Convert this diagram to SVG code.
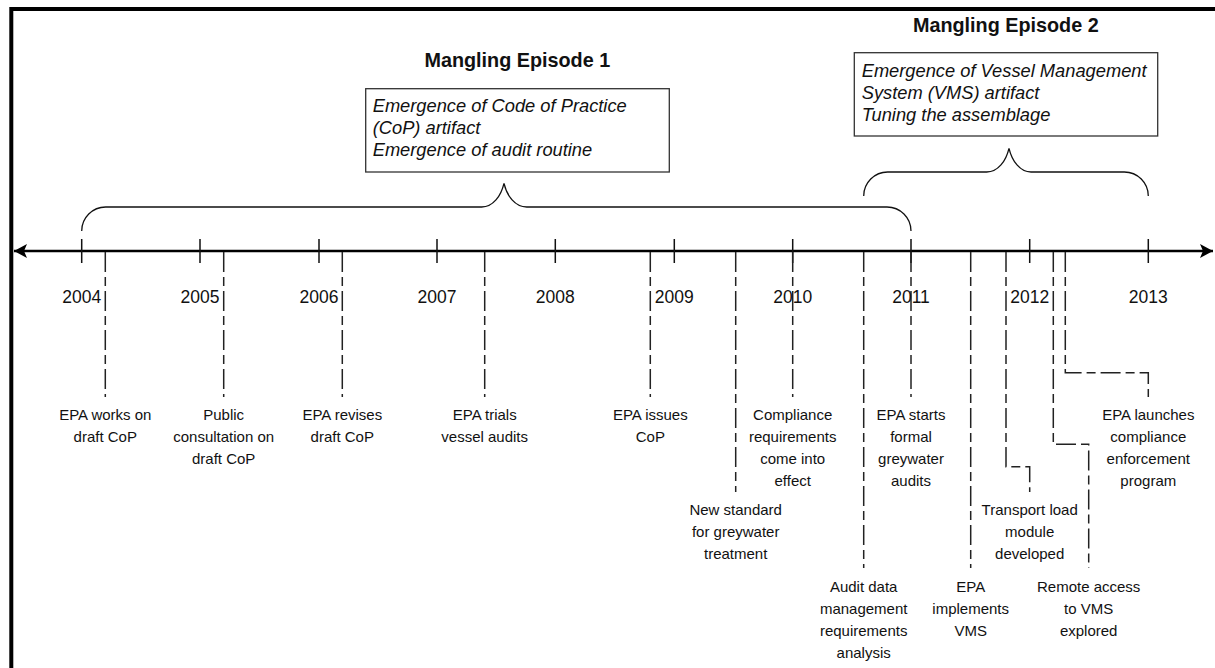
<svg xmlns="http://www.w3.org/2000/svg" width="1215" height="668" viewBox="0 0 1215 668">
<style>
text{font-family:"Liberation Sans",Arial,sans-serif;fill:#111}
.title{font-size:19.8px;font-weight:bold;text-anchor:middle}
.box{fill:#fff;stroke:#333;stroke-width:1.3}
.boxtxt{font-size:18.3px;font-style:italic}
.year{font-size:17.5px;text-anchor:middle}
.ev{font-size:15px;text-anchor:middle}
.tick{stroke:#111;stroke-width:1.5;fill:none}
.brace{stroke:#111;stroke-width:1.3;fill:none}
.dash{stroke:#222;stroke-width:1.5;fill:none;stroke-dasharray:20 5 9 5}
.axis{stroke:#000;stroke-width:2.6;fill:none}
</style>
<defs>
<marker id="ah" markerWidth="14" markerHeight="14" viewBox="0 0 14 14" refX="13" refY="7" orient="auto-start-reverse" markerUnits="userSpaceOnUse">
<path d="M0 0 L13 7 L0 14 L3 7 Z" fill="#000"/>
</marker>
</defs>
<rect width="1215" height="668" fill="#fff"/>
<g id="frame">
<path d="M11.3 668 V9 H1215" fill="none" stroke="#000" stroke-width="4"/>
</g>
<g id="connectors">
<path class="axis" d="M14 251 H1213" marker-start="url(#ah)" marker-end="url(#ah)"/>
<g id="ticks">
<path class="tick" d="M81.7 239V263M200 239V263M319 239V263M437 239V263M555.3 239V263M674.3 239V263M792.7 239V263M911 239V263M1029.7 239V263M1148.3 239V263"/>
</g>
<g id="braces">
<path class="brace" d="M81.7 231 A24 24 0 0 1 105.7 207 H481.7 C493 207 501 196 504 183.3 C507 196 515 207 526.7 207 H887 A24 24 0 0 1 911 231"/>
<path class="brace" d="M863.7 196 A24 24 0 0 1 887.7 172 H986.7 C998 172 1006 161 1009 148.3 C1012 161 1020 172 1031 172 H1124.3 A24 24 0 0 1 1148.3 196"/>
</g>
<g id="event-lines">
<path class="dash" d="M105.3 252V397"/>
<path class="dash" d="M223.7 252V397"/>
<path class="dash" d="M342.3 252V397"/>
<path class="dash" d="M484.7 252V397"/>
<path class="dash" d="M650.3 252V397"/>
<path class="dash" d="M735.7 252V492"/>
<path class="dash" d="M792.7 252V397"/>
<path class="dash" d="M863.7 252V568"/>
<path class="dash" d="M911 252V397"/>
<path class="dash" d="M970.7 252V568"/>
<path class="dash" d="M1006 252V466.7H1029.7V492"/>
<path class="dash" d="M1053.3 252V444.3H1088.7V568"/>
<path class="dash" d="M1065.3 252V372.7H1148.3V397"/>
</g>
</g>
<g id="years">
<text class="year" x="81.7" y="303">2004</text>
<text class="year" x="200" y="303">2005</text>
<text class="year" x="319" y="303">2006</text>
<text class="year" x="437" y="303">2007</text>
<text class="year" x="555.3" y="303">2008</text>
<text class="year" x="674.3" y="303">2009</text>
<text class="year" x="792.7" y="303">2010</text>
<text class="year" x="911" y="303">2011</text>
<text class="year" x="1029.7" y="303">2012</text>
<text class="year" x="1148.3" y="303">2013</text>
</g>
<g id="episode1">
<text class="title" x="517.3" y="66.7">Mangling Episode 1</text>
<rect class="box" x="365.7" y="88.7" width="303.6" height="83.3"/>
<text class="boxtxt" x="372.7" y="111.7">Emergence of Code of Practice</text>
<text class="boxtxt" x="372.7" y="133.7">(CoP) artifact</text>
<text class="boxtxt" x="372.7" y="155.7">Emergence of audit routine</text>
</g>
<g id="episode2">
<text class="title" x="1005.8" y="32.3">Mangling Episode 2</text>
<rect class="box" x="854.3" y="52.7" width="303.4" height="83.3"/>
<text class="boxtxt" x="861.7" y="76.7">Emergence of Vessel Management</text>
<text class="boxtxt" x="861.7" y="98.7">System (VMS) artifact</text>
<text class="boxtxt" x="861.7" y="120.7">Tuning the assemblage</text>
</g>
<g id="ev1"><text class="ev" x="105.3" y="420">EPA works on</text><text class="ev" x="105.3" y="442">draft CoP</text></g>
<g id="ev2"><text class="ev" x="223.7" y="420">Public</text><text class="ev" x="223.7" y="442">consultation on</text><text class="ev" x="223.7" y="464">draft CoP</text></g>
<g id="ev3"><text class="ev" x="342.3" y="420">EPA revises</text><text class="ev" x="342.3" y="442">draft CoP</text></g>
<g id="ev4"><text class="ev" x="484.7" y="420">EPA trials</text><text class="ev" x="484.7" y="442">vessel audits</text></g>
<g id="ev5"><text class="ev" x="650.3" y="420">EPA issues</text><text class="ev" x="650.3" y="442">CoP</text></g>
<g id="ev6"><text class="ev" x="735.7" y="515">New standard</text><text class="ev" x="735.7" y="537">for greywater</text><text class="ev" x="735.7" y="559">treatment</text></g>
<g id="ev7"><text class="ev" x="792.7" y="420">Compliance</text><text class="ev" x="792.7" y="442">requirements</text><text class="ev" x="792.7" y="464">come into</text><text class="ev" x="792.7" y="486">effect</text></g>
<g id="ev8"><text class="ev" x="863.7" y="592">Audit data</text><text class="ev" x="863.7" y="614">management</text><text class="ev" x="863.7" y="636">requirements</text><text class="ev" x="863.7" y="658">analysis</text></g>
<g id="ev9"><text class="ev" x="911" y="420">EPA starts</text><text class="ev" x="911" y="442">formal</text><text class="ev" x="911" y="464">greywater</text><text class="ev" x="911" y="486">audits</text></g>
<g id="ev10"><text class="ev" x="970.7" y="592">EPA</text><text class="ev" x="970.7" y="614">implements</text><text class="ev" x="970.7" y="636">VMS</text></g>
<g id="ev11"><text class="ev" x="1029.7" y="515">Transport load</text><text class="ev" x="1029.7" y="537">module</text><text class="ev" x="1029.7" y="559">developed</text></g>
<g id="ev12"><text class="ev" x="1088.7" y="592">Remote access</text><text class="ev" x="1088.7" y="614">to VMS</text><text class="ev" x="1088.7" y="636">explored</text></g>
<g id="ev13"><text class="ev" x="1148.3" y="420">EPA launches</text><text class="ev" x="1148.3" y="442">compliance</text><text class="ev" x="1148.3" y="464">enforcement</text><text class="ev" x="1148.3" y="486">program</text></g>
</svg>
